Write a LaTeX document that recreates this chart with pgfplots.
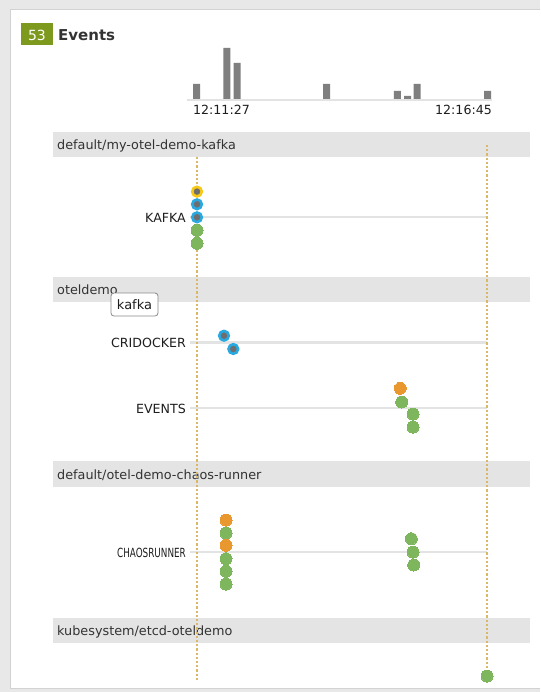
\documentclass[border=0pt]{standalone}
\usepackage{pgfplots}
\pgfplotsset{compat=1.18}
\usepackage{fontspec}
\setmainfont{DejaVu Sans}
\definecolor{framegray}{HTML}{E8E8E8}
\definecolor{frameline}{HTML}{D2D2D2}
\definecolor{bandgray}{HTML}{E4E4E4}
\definecolor{lanegray}{HTML}{E3E3E3}
\definecolor{goldline}{HTML}{D9B868}
\definecolor{dotgreen}{HTML}{7DB65C}
\definecolor{dotorange}{HTML}{E9982F}
\definecolor{ringblue}{HTML}{2AA9E0}
\definecolor{ringyellow}{HTML}{F6C916}
\definecolor{coregray}{HTML}{6E6E6E}
\definecolor{badge}{HTML}{7E9A1E}
\definecolor{bargray}{HTML}{7F7F7F}
\definecolor{txtdark}{HTML}{1E1E1E}
\definecolor{txtband}{HTML}{333333}
\definecolor{tipline}{HTML}{8A8A8A}
\newcommand{\fs}[1]{\fontsize{#1}{#1}\selectfont}
\begin{document}
\begin{tikzpicture}
% outer frame and white panel
\fill[framegray] (0pt,0pt) rectangle (540pt,-692pt);
\fill[white] (10pt,-10pt) rectangle (540pt,-688pt);
\draw[frameline, line width=1pt] (540pt,-10pt) -- (10pt,-10pt) -- (10pt,-688pt) -- (540pt,-688pt);
\begin{axis}[at={(0pt,0pt)}, anchor=north west, scale only axis,
  width=540pt, height=680pt, xmin=0, xmax=540, ymin=0, ymax=680,
  y dir=reverse, axis lines=none, clip=true]
% header
\fill[badge] (21,23) rectangle (53,45);
\node[anchor=base, text=white, font=\fs{14}, inner sep=0pt] at (37,40) {53};
\node[anchor=base west, text=txtband, font=\fs{15}\bfseries, inner sep=0pt] at (58,40.5) {Events};
% timestamps
\node[anchor=base west, text=txtdark, font=\fs{12.6}, inner sep=0pt] at (193,114.5) {12:11:27};
\node[anchor=base east, text=txtdark, font=\fs{12.6}, inner sep=0pt] at (492,114.5) {12:16:45};
% group bands
\fill[bandgray] (53,132) rectangle (530,157);
\fill[bandgray] (53,277) rectangle (530,302);
\fill[bandgray] (53,461) rectangle (530,487);
\fill[bandgray] (53,618) rectangle (530,643);
\node[anchor=base west, text=txtband, font=\fs{12.8}, inner sep=0pt] at (57,149.5) {default/my-otel-demo-kafka};
\node[anchor=base west, text=txtband, font=\fs{12.8}, inner sep=0pt] at (57,294.5) {oteldemo};
\node[anchor=base west, text=txtband, font=\fs{12.8}, inner sep=0pt] at (57,479) {default/otel-demo-chaos-runner};
\node[anchor=base west, text=txtband, font=\fs{12.8}, inner sep=0pt] at (57,635.5) {kubesystem/etcd-oteldemo};
% lane lines
\draw[lanegray, line width=2.5pt] (190,217) -- (487,217);
\draw[lanegray, line width=2.5pt] (190,342.5) -- (487,342.5);
\draw[lanegray, line width=2.5pt] (190,408) -- (487,408);
\draw[lanegray, line width=2.5pt] (190,552) -- (487,552);
% lane labels
\node[anchor=base east, text=txtdark, font=\fs{12.6}, inner sep=0pt] at (186,222) {KAFKA};
\node[anchor=base east, text=txtdark, font=\fs{12.6}, inner sep=0pt] at (186,347.5) {CRIDOCKER};
\node[anchor=base east, text=txtdark, font=\fs{12.6}, inner sep=0pt] at (186,413) {EVENTS};
\node[anchor=base east, text=txtdark, font=\fs{12.6}, inner sep=0pt] at (186,557) {\scalebox{0.7}[1]{CHAOSRUNNER}};
% time markers
\draw[goldline, line width=2.4pt, dash pattern=on 2.2pt off 2pt] (197,157) -- (197,692);
\draw[goldline, line width=2.4pt, dash pattern=on 2.2pt off 2pt] (487,145) -- (487,676);
% events
\addplot[only marks, mark=*, mark size=6pt, color=dotgreen, mark options={draw=dotgreen, fill=dotgreen, line width=0pt}] coordinates {
 (197,230.3) (197,243.3)
 (401.7,402) (413,414) (413,427)
 (226,533) (226,558.7) (226,571.3) (226,584)
 (411.3,538.7) (413,552) (413.7,565)
 (487,676)};
\addplot[only marks, mark=*, mark size=6pt, color=dotorange, mark options={draw=dotorange, fill=dotorange, line width=0pt}] coordinates {
 (400.3,388.3) (226,520) (226,545.3)};
\addplot[only marks, mark=*, mark size=4.8pt, color=ringyellow, mark options={fill=coregray, draw=ringyellow, line width=2.6pt}] coordinates {
 (197,191.6)};
\addplot[only marks, mark=*, mark size=4.8pt, color=ringblue, mark options={fill=coregray, draw=ringblue, line width=2.6pt}] coordinates {
 (197,204.3) (197,217.3) (224,335.7) (233.3,349)};
% tooltip
\filldraw[fill=white, draw=tipline, line width=0.8pt, rounded corners=3pt] (111,293) rectangle (158,316);
\node[anchor=base, text=txtdark, font=\fs{13}, inner sep=0pt] at (134.5,309.5) {kafka};
\end{axis}
% histogram
\begin{axis}[at={(187pt,-99pt)}, anchor=south west, scale only axis,
  width=306pt, height=51pt, xmin=187, xmax=493, ymin=0, ymax=51,
  axis lines=none, clip=false]
\draw[lanegray, line width=2pt] (187,-1) -- (492,-1);
\addplot[ybar, bar width=7pt, bar shift=0pt, fill=bargray, draw=none] coordinates {
 (196.5,15) (226.8,51) (237,36) (326.5,15) (397.3,8) (407.5,3) (417,15) (487.5,8)};
\end{axis}
\end{tikzpicture}
\end{document}
